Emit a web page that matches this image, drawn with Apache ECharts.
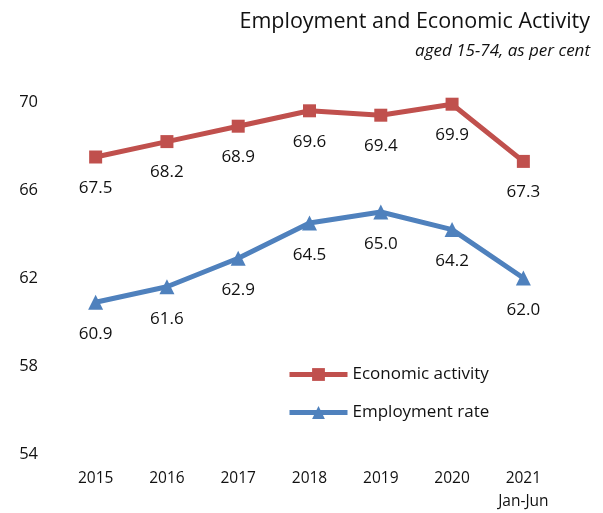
<!DOCTYPE html>
<html><head><meta charset="utf-8">
<script src="https://cdn.jsdelivr.net/npm/echarts@6/dist/echarts.min.js"></script>
<style>html,body{margin:0;padding:0;background:#fff}#c{width:603px;height:513px}</style>
</head><body><div id="c"></div>
<script>
var categories = ['2015','2016','2017','2018','2019','2020','2021\nJan-Jun'];
var economicActivity = [67.5, 68.2, 68.9, 69.6, 69.4, 69.9, 67.3];
var employmentRate = [60.9, 61.6, 62.9, 64.5, 65.0, 64.2, 62.0];
var yTicks = [54, 58, 62, 66, 70];

var FONT = '"Open Sans", sans-serif';
var chart = echarts.init(document.getElementById('c'));
chart.setOption({
  animation: false,
  textStyle: {fontFamily: FONT},
  title: [
    {text: 'Employment and Economic Activity', right: 8, top: 6,
     textStyle: {fontFamily: FONT, fontSize: 21.5, fontWeight: 'normal', color: '#111'}},
    {text: 'aged 15-74, as per cent', right: 8, top: 38,
     textStyle: {fontFamily: FONT, fontSize: 17, fontStyle: 'italic', fontWeight: 'normal', color: '#111'}}
  ],
  grid: {left: 60, right: 44, top: 102, bottom: 49},
  legend: {
    orient: 'vertical', left: 282, top: 361, itemGap: 21,
    itemWidth: 58, itemHeight: 16,
    lineStyle: {width: 5},
    textStyle: {fontFamily: FONT, fontSize: 17, color: '#111'},
    data: ['Economic activity', 'Employment rate']
  },
  xAxis: {
    type: 'category', data: categories,
    axisLine: {show: false}, axisTick: {show: false},
    axisLabel: {fontFamily: FONT, fontSize: 15.5, color: '#111', margin: 13, lineHeight: 23}
  },
  yAxis: {
    type: 'value', min: yTicks[0], max: yTicks[yTicks.length-1], interval: 4,
    splitLine: {show: false}, axisLine: {show: false}, axisTick: {show: false},
    axisLabel: {fontFamily: FONT, fontSize: 16.5, color: '#111', margin: 22}
  },
  series: [
    {
      name: 'Economic activity', type: 'line', data: economicActivity,
      symbol: 'rect', symbolSize: 13,
      lineStyle: {color: '#C0504D', width: 5},
      itemStyle: {color: '#C0504D'},
      label: {show: true, position: 'bottom', distance: 16, fontFamily: FONT, fontSize: 17, color: '#111',
              formatter: function(p){return p.value.toFixed(1);}}
    },
    {
      name: 'Employment rate', type: 'line', data: employmentRate,
      symbol: 'triangle', symbolSize: 15,
      lineStyle: {color: '#4F81BD', width: 5},
      itemStyle: {color: '#4F81BD'},
      label: {show: true, position: 'bottom', distance: 16, fontFamily: FONT, fontSize: 17, color: '#111',
              formatter: function(p){return p.value.toFixed(1);}}
    }
  ]
});
</script></body></html>
